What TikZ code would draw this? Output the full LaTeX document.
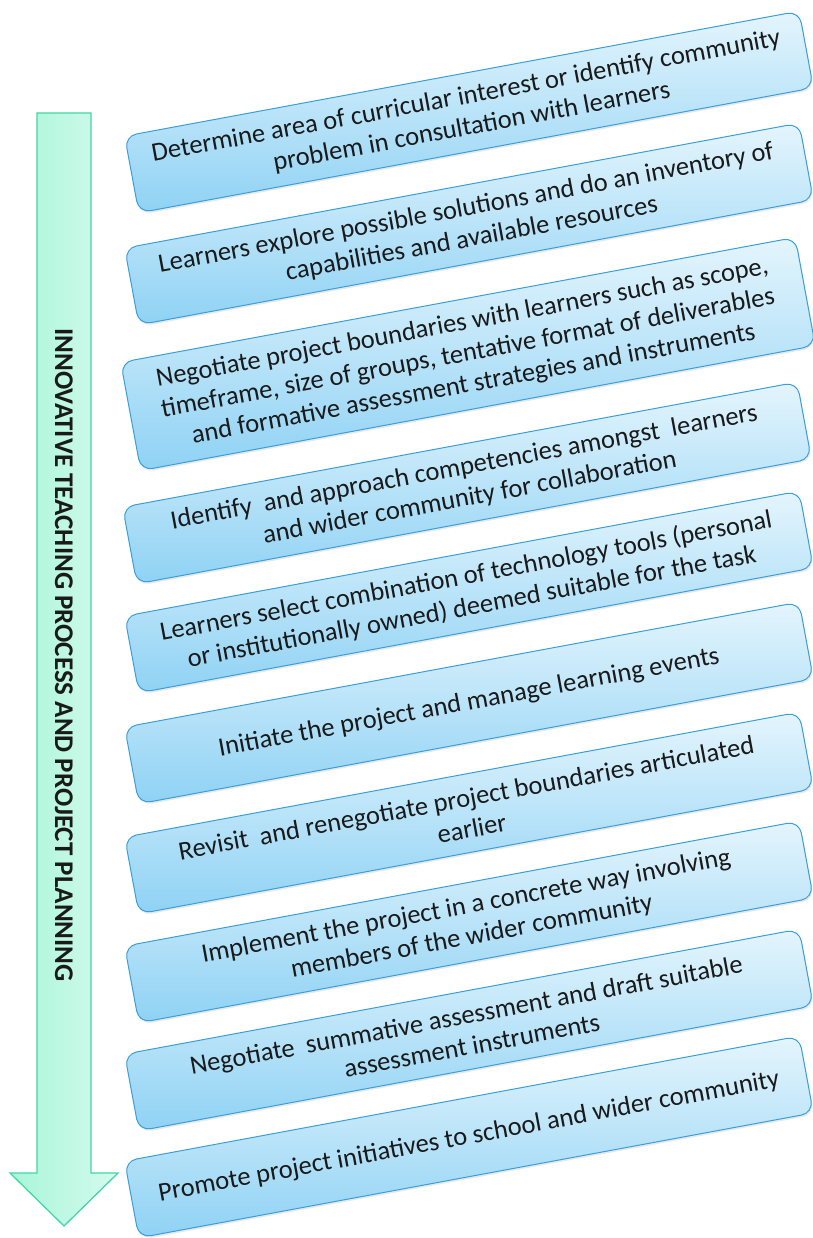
\documentclass[tikz,border=0pt]{standalone}
\usepackage{fontspec}
\setmainfont{Carlito}
\usetikzlibrary{shadows}
\definecolor{boxline}{HTML}{3A9FD8}
\definecolor{boxtop}{HTML}{E4F5FD}
\definecolor{boxbot}{HTML}{8FD2F4}
\definecolor{arrline}{HTML}{45D6A5}
\definecolor{arrleft}{HTML}{A9F5D9}
\definecolor{arrright}{HTML}{D4FBEE}
\definecolor{txt}{HTML}{1A1A1A}
\tikzset{
  stepbox/.style={draw=boxline, line width=1pt, rounded corners=12pt,
    top color=boxtop, bottom color=boxbot,
    minimum width=686pt, minimum height=78pt, rotate=10.5,
    align=center, text=txt, font=\fontsize{26.5}{31}\selectfont, inner sep=2pt,
    drop shadow={opacity=0.18, shadow xshift=1pt, shadow yshift=-2pt}},
  bigarrow/.style={draw=arrline, line width=1.3pt, left color=arrleft, right color=arrright, line join=miter},
  arrowtext/.style={rotate=-90, text=txt, font=\bfseries\fontsize{27}{32}\selectfont}
}
\begin{document}
\begin{tikzpicture}[x=1pt,y=1pt]
\useasboundingbox (0,0) rectangle (812,-1238);
% big arrow
\path[bigarrow] (37,-113) -- (91,-113) -- (91,-1173) -- (118,-1173) -- (64,-1226) -- (10,-1173) -- (37,-1173) -- cycle;
\node[arrowtext] (title) at (64,-655) {INNOVATIVE TEACHING PROCESS AND PROJECT PLANNING};
% steps
\node[stepbox] (s1) at (469,-112) {Determine area of curricular interest or identify community\\ problem in consultation with learners};
\node[stepbox] (s2) at (469,-224) {Learners explore possible solutions and do an inventory of\\ capabilities and available resources};
\node[stepbox, minimum height=110pt] (s3) at (468,-354) {Negotiate project boundaries with learners such as scope,\\ timeframe, size of groups, tentative format of deliverables\\ and formative assessment strategies and instruments};
\node[stepbox] (s4) at (467,-483) {Identify\ \ and approach competencies amongst\ \ learners\\ and wider community for collaboration};
\node[stepbox] (s5) at (469,-592) {Learners select combination of technology tools (personal\\ or institutionally owned) deemed suitable for the task};
\node[stepbox] (s6) at (469,-703) {Initiate the project and manage learning events};
\node[stepbox] (s7) at (469,-813) {Revisit\ \ and renegotiate project boundaries articulated\\ earlier};
\node[stepbox] (s8) at (469,-922) {Implement the project in a concrete way involving\\ members of the wider community};
\node[stepbox] (s9) at (469,-1030) {Negotiate\ \ summative assessment and draft suitable\\ assessment instruments};
\node[stepbox] (s10) at (469,-1137) {Promote project initiatives to school and wider community};
\end{tikzpicture}
\end{document}
